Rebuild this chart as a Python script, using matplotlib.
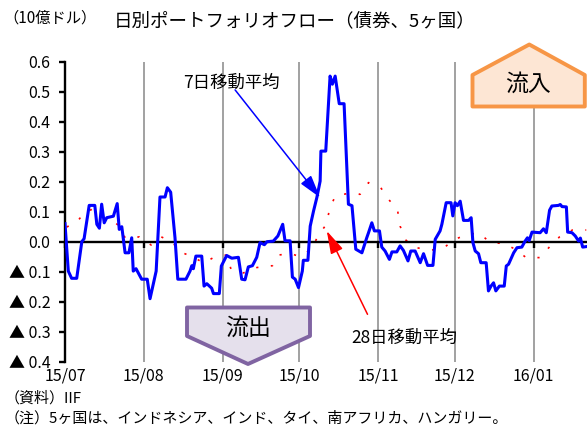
import matplotlib.pyplot as plt
from matplotlib.patches import Polygon

plt.rcParams['font.family'] = ['Noto Sans CJK JP', 'DejaVu Sans']

# ----------------------------
# data (days counted from 2015-07-01, values in 10億ドル)
# ----------------------------
month_labels = ["15/07", "15/08", "15/09", "15/10", "15/11", "15/12", "16/01"]
month_days = [0, 31, 62, 92, 123, 153, 184]

# 7日移動平均 (blue)
blue_days = [0, 1.3, 2.6, 4.6, 6.6, 7.5, 9.5, 11.7, 12.5, 13.5, 14.4, 15.4, 16.4,
             19.0, 20.5, 21.3, 22.3, 23.6, 25.1, 26.2, 26.8, 27.9, 30.1, 32.3,
             33.4, 35.8, 37.3, 39.3, 40.2, 41.5, 43.2, 44.3, 47.5, 49.1, 49.8,
             50.4, 51.4, 53.7, 54.6, 55.7, 57.6, 58.3, 60.6, 61.4, 63.5, 65.5,
             68.1, 69.4, 70.7, 72.0, 73.6, 75.3, 76.6, 78.3, 79.3, 81.8, 83.6,
             85.5, 86.4, 88.4, 89.3, 90.4, 91.7, 93.2, 93.6, 95.4, 96.3, 97.6,
             98.9, 100.2, 100.5, 102.4, 104.1, 105.0, 106.1, 107.7, 109.6, 111.3,
             112.7, 114.2, 116.6, 118.5, 119.2, 120.5, 121.5, 123.5, 124.4, 125.7,
             127.4, 128.4, 130.3, 131.6, 132.9, 134.7, 135.8, 137.5, 139.5, 140.8,
             142.4, 144.5, 145.4, 147.3, 148.0, 149.7, 151.6, 152.3, 153.2, 154.1,
             155.2, 156.5, 158.5, 159.5, 160.2, 161.1, 162.4, 163.3, 165.4, 166.3,
             167.3, 168.3, 169.2, 170.6, 172.5, 173.3, 174.2, 176.2, 177.5, 179.4,
             180.7, 181.6, 182.3, 183.4, 186.6, 187.9, 189.0, 190.3, 191.2, 193.8,
             194.5, 195.2, 196.9, 197.4, 199.1, 200.4, 201.7, 202.4, 203.3, 205.0]
blue_vals = [0.06, -0.098, -0.122, -0.122, 0.0, 0.01, 0.121, 0.121, 0.058, 0.045,
             0.125, 0.063, 0.08, 0.085, 0.127, 0.041, 0.05, -0.037, -0.037, 0.013,
             -0.098, -0.09, -0.125, -0.125, -0.19, -0.098, 0.149, 0.149, 0.18,
             0.165, 0.013, -0.125, -0.125, -0.098, -0.08, -0.09, -0.048, -0.048,
             -0.148, -0.14, -0.155, -0.173, -0.173, -0.081, -0.046, -0.055, -0.052,
             -0.125, -0.127, -0.084, -0.08, -0.052, -0.003, -0.01, 0.0, 0.002,
             0.019, 0.058, 0.003, 0.003, -0.118, -0.125, -0.153, -0.098, -0.062,
             -0.062, 0.052, 0.102, 0.147, 0.202, 0.302, 0.302, 0.552, 0.525, 0.552,
             0.46, 0.46, 0.125, 0.12, -0.025, -0.037, 0.013, 0.03, 0.063, 0.036,
             0.036, -0.018, -0.031, -0.059, -0.034, -0.034, -0.014, -0.029, -0.064,
             -0.031, -0.031, -0.07, -0.04, -0.079, -0.079, 0.008, 0.036, 0.058,
             0.13, 0.13, 0.086, 0.13, 0.12, 0.135, 0.071, 0.071, 0.08, -0.003,
             -0.031, -0.04, -0.07, -0.07, -0.164, -0.148, -0.137, -0.164, -0.148,
             -0.148, -0.081, -0.075, -0.037, -0.02, -0.018, 0.002, 0.013, 0.004,
             0.032, 0.03, 0.043, 0.03, 0.105, 0.119, 0.121, 0.124, 0.117, 0.116,
             0.032, 0.03, 0.019, 0.002, 0.012, -0.018, -0.016]

# 28日移動平均 (red)
red_days = [0.7, 4.8, 7.9, 11.5, 12.7, 17.0, 20.9, 23.7, 29.2, 33.8, 37.8, 42.0,
            45.2, 50.4, 54.4, 58.3, 63.5, 65.2, 70.1, 75.4, 81.5, 84.2, 88.8, 92.3,
            96.9, 99.5, 102.6, 103.9, 106.1, 111.2, 115.9, 119.2, 124.0, 127.4,
            130.6, 131.6, 133.9, 137.9, 143.8, 148.6, 152.6, 157.8, 162.7, 166.7,
            172.6, 176.8, 181.1, 186.6, 190.3, 194.2, 199.3, 204.7]
red_vals = [0.049, 0.067, 0.10, 0.11, 0.058, 0.082, 0.055, 0.012, 0.016, -0.011,
            0.016, 0.0, -0.034, -0.051, -0.071, -0.053, -0.044, -0.092, -0.104,
            -0.086, -0.08, -0.044, -0.04, -0.05, -0.024, 0.022, 0.057, 0.108, 0.152,
            0.161, 0.158, 0.197, 0.18, 0.138, 0.105, 0.052, 0.005, -0.02, -0.028,
            -0.022, 0.006, 0.024, 0.029, -0.001, -0.007, -0.025, -0.053, -0.053,
            -0.017, 0.016, 0.039, 0.039]

y_ticks = [-0.4, -0.3, -0.2, -0.1, 0.0, 0.1, 0.2, 0.3, 0.4, 0.5, 0.6]
y_labels = [f"{v:.1f}" if v >= 0 else f"▲ {abs(v):.1f}" for v in y_ticks]

W, H = 587, 433


def px(x, y):
    # pixel position (from top-left) -> figure fraction
    return (x / W, 1 - y / H)


# ----------------------------
# figure
# ----------------------------
fig = plt.figure(figsize=(W / 100, H / 100), dpi=100)
ax = fig.add_axes([65 / W, 1 - 361.7 / H, 1 - 65 / W, 300 / H])

ax.plot(red_days, red_vals, color="#FF0000", lw=1.2, linestyle=(0, (1.3, 7.5)),
        dash_capstyle="butt", zorder=2)
ax.plot(blue_days, blue_vals, color="#0000FF", lw=2.2, zorder=3)

ax.set_xlim(0, 205)
ax.set_ylim(-0.4, 0.6)
ax.set_xticks(month_days)
ax.grid(axis="x", color="#9a9a9a", lw=1.3)
ax.set_axisbelow(True)

for s in ["top", "right"]:
    ax.spines[s].set_visible(False)
ax.spines["bottom"].set_position(("data", 0))
ax.spines["bottom"].set_linewidth(1.7)
ax.spines["left"].set_linewidth(1.7)
ax.tick_params(axis="x", direction="out", length=4, width=1.7, labelbottom=False)

ax.set_yticks(y_ticks, labels=y_labels)
ax.tick_params(axis="y", direction="out", length=4.5, width=1.7, pad=6, labelsize=11.5)

sec = ax.secondary_xaxis("bottom")
sec.set_xticks(month_days, labels=month_labels)
sec.spines["bottom"].set_visible(False)
sec.tick_params(length=0, pad=4, labelsize=11.5)

# annotations
ax.text(65.2, 0.531, "7日移動平均", ha="center", va="center", fontsize=12.5)
ax.annotate("", xy=(100.2, 0.147), xytext=(66.8, 0.506),
            arrowprops=dict(arrowstyle="-|>,head_length=0.7,head_width=0.2",
                            mutation_scale=20, color="#0000FF", lw=1.1,
                            shrinkA=0, shrinkB=0))
ax.text(133.2, -0.321, "28日移動平均", ha="center", va="center", fontsize=12.5)
ax.annotate("", xy=(102.8, 0.036), xytext=(118.8, -0.242),
            arrowprops=dict(arrowstyle="-|>,head_length=0.7,head_width=0.2",
                            mutation_scale=20, color="#FF0000", lw=1.1,
                            shrinkA=0, shrinkB=0))

# 流入 / 流出 callouts
inflow = Polygon([px(472.5, 106.5), px(472.5, 75), px(529.3, 44.5),
                  px(584.8, 75), px(584.8, 106.5)], closed=True,
                 transform=fig.transFigure, facecolor="#FDE6D4",
                 edgecolor="#F79646", lw=2.8, joinstyle="round")
fig.patches.append(inflow)
fig.text(*px(528, 84), "流入", ha="center", va="center", fontsize=16.5)

outflow = Polygon([px(187, 307.5), px(310, 307.5), px(310, 336),
                   px(248, 364), px(187, 336)], closed=True,
                  transform=fig.transFigure, facecolor="#E5E0EC",
                  edgecolor="#8064A2", lw=2.8, joinstyle="round")
fig.patches.append(outflow)
fig.text(*px(248, 328), "流出", ha="center", va="center", fontsize=16.5)

# titles and notes
fig.text(*px(295, 21), "日別ポートフォリオフロー（債券、5ヶ国）",
         ha="center", va="center", fontsize=13.3)
fig.text(*px(3, 18), "（10億ドル）", ha="left", va="center", fontsize=11)
fig.text(*px(5, 398), "（資料）IIF", ha="left", va="center", fontsize=10.8)
fig.text(*px(5, 418), "（注）5ヶ国は、インドネシア、インド、タイ、南アフリカ、ハンガリー。",
         ha="left", va="center", fontsize=10.8)

fig.savefig("out.png", dpi=100)
